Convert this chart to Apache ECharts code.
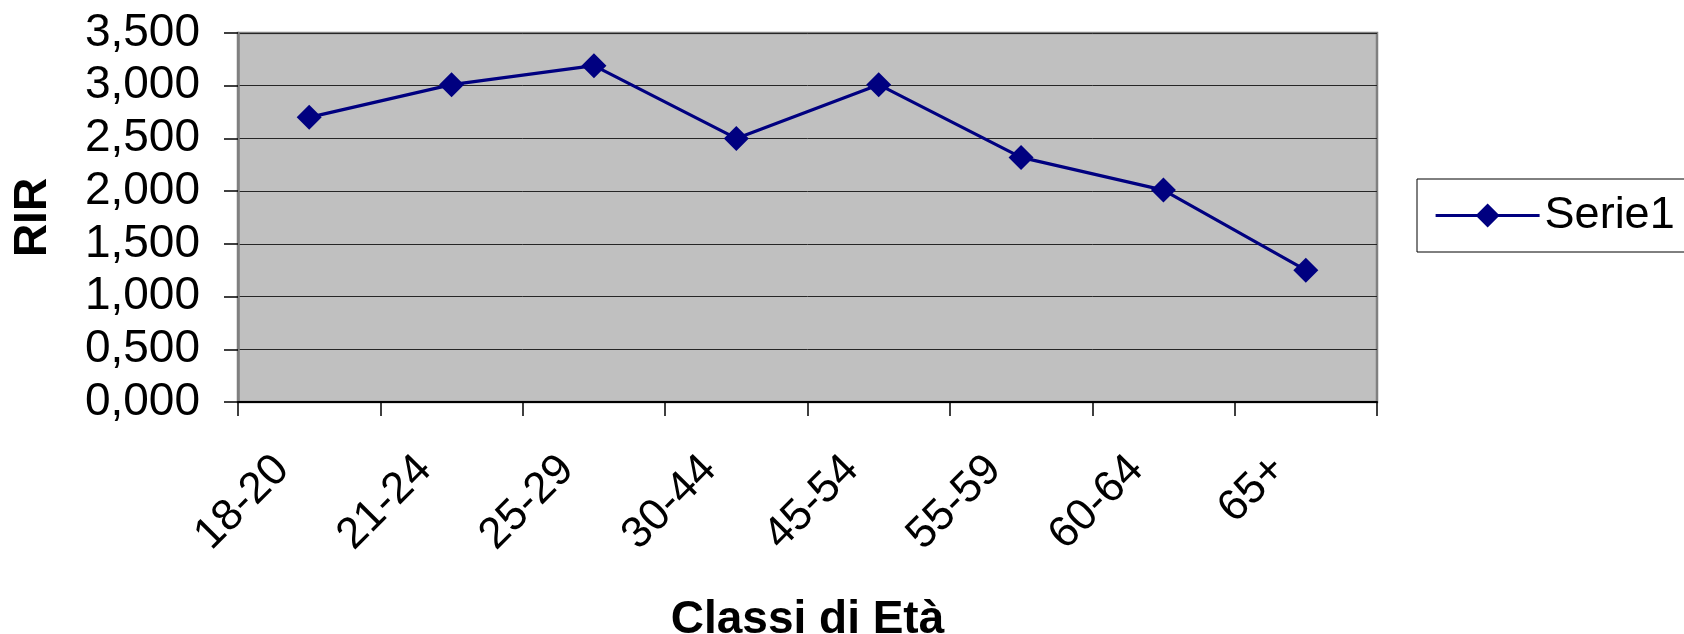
<!DOCTYPE html>
<html>
<head>
<meta charset="utf-8">
<script src="https://cdn.jsdelivr.net/npm/echarts@6/dist/echarts.min.js"></script>
<style>
html,body{margin:0;padding:0;background:#fff;}
#chart{width:1684px;height:634px;}
</style>
</head>
<body>
<div id="chart"></div>
<script>
const categories = ['18-20', '21-24', '25-29', '30-44', '45-54', '55-59', '60-64', '65+'];
const serie1 = [2.70, 3.01, 3.19, 2.50, 3.01, 2.32, 2.01, 1.25];
const seriesName = 'Serie1';
const xTitle = 'Classi di Età';
const yTitle = 'RIR';

const FONT = '"Liberation Sans", Arial, sans-serif';
const chart = echarts.init(document.getElementById('chart'), null, {renderer: 'canvas'});
chart.setOption({
  animation: false,
  backgroundColor: '#ffffff',
  grid: {
    left: 238, top: 33, right: 307, bottom: 232,
    show: true, backgroundColor: '#c0c0c0', borderColor: '#808080', borderWidth: 2.5,
    containLabel: false,
    outerBoundsMode: 'none'
  },
  legend: {
    left: 1417, top: 179,
    orient: 'vertical',
    padding: [14, 30, 14, 17],
    borderColor: '#000', borderWidth: 1,
    backgroundColor: '#fff',
    itemWidth: 104, itemHeight: 30,
    lineStyle: {width: 3.2},
    textStyle: {fontFamily: FONT, fontSize: 45, color: '#000'},
    data: [seriesName]
  },
  xAxis: {
    type: 'category',
    data: categories,
    boundaryGap: true,
    name: xTitle,
    nameLocation: 'middle',
    nameGap: 195,
    nameTextStyle: {fontFamily: FONT, fontSize: 46, fontWeight: 'bold', color: '#000'},
    axisLine: {show: true, lineStyle: {color: '#000', width: 2}},
    axisTick: {show: true, alignWithLabel: false, length: 14, lineStyle: {color: '#000', width: 1.5}},
    axisLabel: {
      rotate: 45, margin: 34, interval: 0,
      fontFamily: FONT, fontSize: 44, color: '#000',
      padding: [0, 38, 0, 0]
    },
    splitLine: {show: false}
  },
  yAxis: {
    type: 'value',
    min: 0, max: 3.5, interval: 0.5,
    name: yTitle,
    nameLocation: 'middle',
    nameGap: 182,
    nameRotate: 90,
    nameTextStyle: {fontFamily: FONT, fontSize: 46, fontWeight: 'bold', color: '#000'},
    axisLine: {show: true, lineStyle: {color: '#808080', width: 2.5}},
    axisTick: {show: true, length: 14, lineStyle: {color: '#000', width: 1.5}},
    axisLabel: {
      margin: 38, fontFamily: FONT, fontSize: 46, color: '#000',
      formatter: v => v.toFixed(3).replace('.', ',')
    },
    splitLine: {show: true, lineStyle: {color: '#262626', width: 1}}
  },
  series: [{
    name: seriesName,
    type: 'line',
    data: serie1,
    symbol: 'diamond',
    symbolSize: 25,
    showAllSymbol: true,
    lineStyle: {color: '#000080', width: 3.2},
    itemStyle: {color: '#000080', borderWidth: 0}
  }]
});
</script>
</body>
</html>
